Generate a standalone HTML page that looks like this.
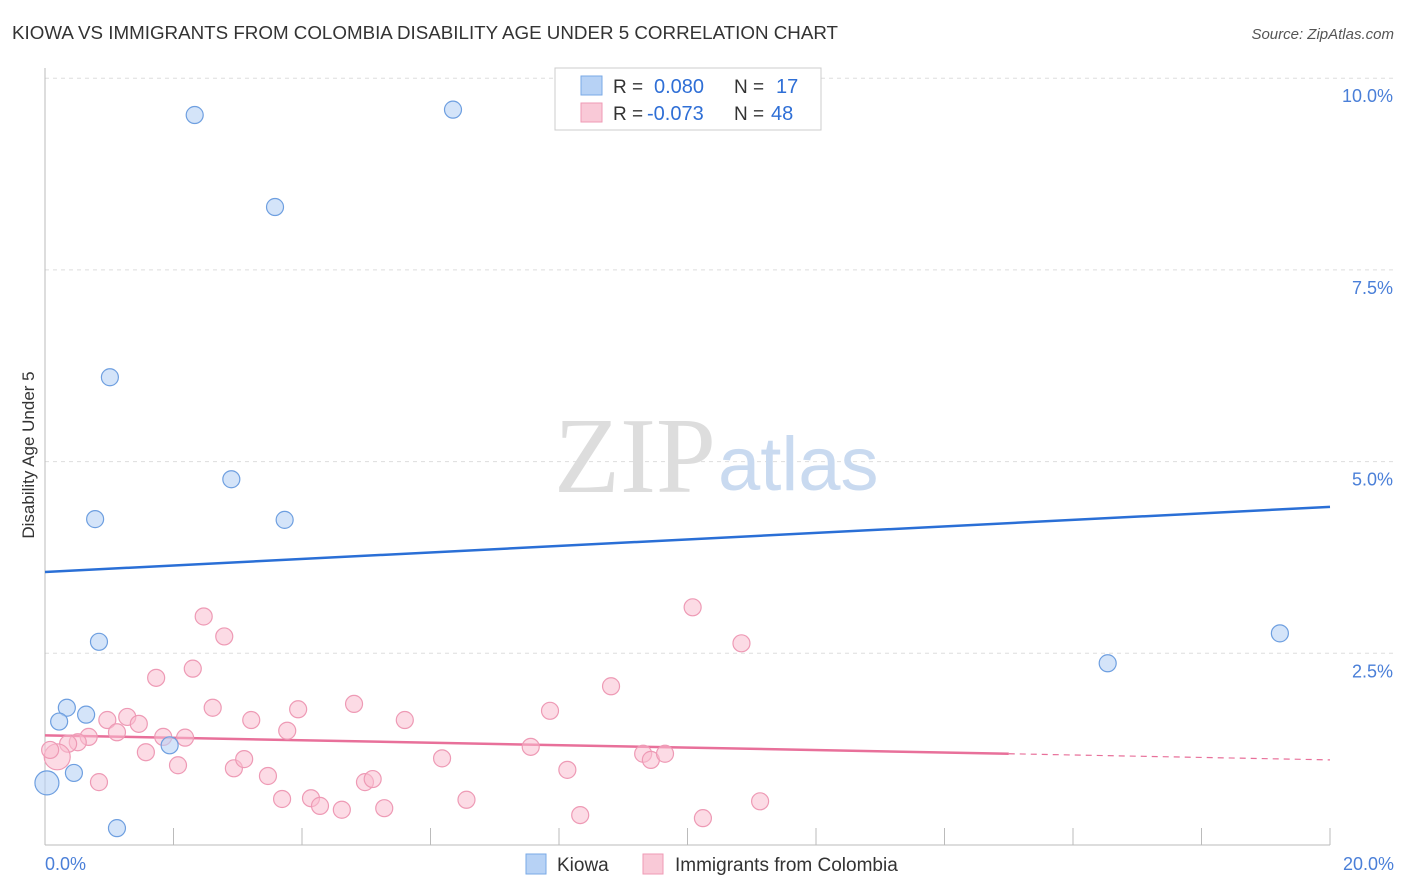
<!DOCTYPE html>
<html><head><meta charset="utf-8"><style>
body{margin:0;background:#fff;font-family:"Liberation Sans",sans-serif;}
svg{display:block}
</style></head><body>
<svg id="chart" width="1406" height="892">
<text x="12" y="39" font-size="18" fill="#333" textLength="826" lengthAdjust="spacingAndGlyphs">KIOWA VS IMMIGRANTS FROM COLOMBIA DISABILITY AGE UNDER 5 CORRELATION CHART</text>
<text x="1394" y="39" font-size="15" fill="#555" font-style="italic" text-anchor="end">Source: ZipAtlas.com</text>
<text x="34" y="455" font-size="17" fill="#333" transform="rotate(-90 34 455)" text-anchor="middle">Disability Age Under 5</text>
<g id="grid"></g>
<text x="716" y="492" font-size="108" fill="#ddd" text-anchor="end" font-family="Liberation Serif">ZIP</text>
<text x="718" y="490" font-size="76" fill="#c9daf0">atlas</text>
<g id="lines"></g>
<g id="points"></g>
<g>
<rect x="555" y="68" width="266" height="62" fill="#fff" stroke="#ccc"/>
<rect x="581" y="76" width="21" height="19" fill="#b7d2f5" stroke="#7aa9e6"/>
<rect x="581" y="103" width="21" height="19" fill="#f9c9d7" stroke="#ef9ab4"/>
<text x="613" y="93" font-size="19" fill="#333">R =</text>
<text x="654" y="93" font-size="20" fill="#2f6fd6">0.080</text>
<text x="734" y="93" font-size="19" fill="#333">N =</text>
<text x="776" y="93" font-size="20" fill="#2f6fd6">17</text>
<text x="613" y="120" font-size="19" fill="#333">R =</text>
<text x="647" y="120" font-size="20" fill="#2f6fd6">-0.073</text>
<text x="734" y="120" font-size="19" fill="#333">N =</text>
<text x="771" y="120" font-size="20" fill="#2f6fd6">48</text>
</g>
<g>
<rect x="526" y="854" width="20" height="20" fill="#b7d2f5" stroke="#7aa9e6"/>
<text x="557" y="871" font-size="19" fill="#333">Kiowa</text>
<rect x="643" y="854" width="20" height="20" fill="#f9c9d7" stroke="#ef9ab4"/>
<text x="675" y="871" font-size="19" fill="#333">Immigrants from Colombia</text>
</g>
</svg>
<script>
const yTicks=[2.5,5.0,7.5,10.0];
const yTickLabels=["2.5%","5.0%","7.5%","10.0%"];
const kiowaX=[2.33,6.35,3.58,1.01,2.90,0.78,3.73,0.84,0.34,0.22,0.64,1.94,0.45,0.03,1.12,16.54,19.22];
const kiowaY=[9.52,9.59,8.32,6.10,4.77,4.25,4.24,2.65,1.79,1.61,1.70,1.30,0.94,0.81,0.22,2.37,2.76];
const colX=[2.47,2.79,1.73,2.30,2.61,3.21,3.94,4.81,5.60,8.81,7.86,10.08,10.84,0.97,1.28,1.46,1.12,0.68,0.51,0.36,0.19,1.57,1.84,2.18,2.07,2.94,3.10,3.77,3.47,0.84,3.69,4.14,4.28,4.62,4.98,5.10,5.28,6.18,6.56,7.56,8.13,8.33,9.31,9.43,9.65,10.24,11.13,0.08];
const colY=[2.98,2.72,2.18,2.30,1.79,1.63,1.77,1.84,1.63,2.07,1.75,3.10,2.63,1.63,1.67,1.58,1.47,1.41,1.34,1.32,1.15,1.21,1.41,1.40,1.04,1.00,1.12,1.49,0.90,0.82,0.60,0.61,0.51,0.46,0.82,0.86,0.48,1.13,0.59,1.28,0.98,0.39,1.19,1.11,1.19,0.35,0.57,1.24];
const kiowaTrend=[0,3.56,20,4.41];
const colTrend=[0,1.43,15,1.19,20,1.11];
const X=v=>45+v/20*1285, Y=v=>845-v*76.68;
const NS="http://www.w3.org/2000/svg";
function mk(tag,attrs,parent){const e=document.createElementNS(NS,tag);for(const k in attrs)e.setAttribute(k,attrs[k]);parent.appendChild(e);return e;}
const grid=document.getElementById('grid');
yTicks.forEach((t,i)=>{
 const l=mk('line',{x1:45,x2:1394,y1:Y(t),y2:Y(t),stroke:'#ddd','stroke-dasharray':'4,4'},grid);
 
 
 const tx=mk('text',{x:1393,y:Y(t)+24,'font-size':18,fill:'#4a7fd8','text-anchor':'end'},grid);
 tx.textContent=yTickLabels[i];
 
 
});
const ax=mk('line',{x1:45,x2:45,y1:68,y2:845,stroke:'#bbb'},grid);


const bx=mk('line',{x1:45,x2:1330,y1:845,y2:845,stroke:'#bbb'},grid);


for(let i=0;i<=10;i++){
 const t=mk('line',{x1:X(i*2),x2:X(i*2),y1:828,y2:845,stroke:'#bbb'},grid);
 
 
}
[["0.0%",45,"start"],["20.0%",1394,"end"]].forEach(a=>{
 const t=mk('text',{x:a[1],y:870,'font-size':18,fill:'#4a7fd8','text-anchor':a[2]},grid);
 t.textContent=a[0];
 
 
});
const lines=document.getElementById('lines');
const bl=mk('line',{x1:X(kiowaTrend[0]),y1:Y(kiowaTrend[1]),x2:X(kiowaTrend[2]),y2:Y(kiowaTrend[3]),stroke:'#2a6fd6','stroke-width':2.5},lines);


const pl=mk('line',{x1:X(colTrend[0]),y1:Y(colTrend[1]),x2:X(colTrend[2]),y2:Y(colTrend[3]),stroke:'#e8709a','stroke-width':2.5},lines);


const pd=mk('line',{x1:X(colTrend[2]),y1:Y(colTrend[3]),x2:X(colTrend[4]),y2:Y(colTrend[5]),stroke:'#e8709a','stroke-width':1.2,'stroke-dasharray':'6,5'},lines);


const pts=document.getElementById('points');
colX.forEach((v,i)=>{
 const r=i===20?13:8.5;
 const c=mk('circle',{cx:X(v),cy:Y(colY[i]),r:r,fill:'rgba(249,190,208,0.55)',stroke:'#ee9ab5','stroke-width':1.2},pts);
 
 
});
kiowaX.forEach((v,i)=>{
 const r=i===13?12:8.5;
 const c=mk('circle',{cx:X(v),cy:Y(kiowaY[i]),r:r,fill:'rgba(183,210,245,0.6)',stroke:'#6e9fe0','stroke-width':1.2},pts);
 
 
});
</script>
</body></html>
